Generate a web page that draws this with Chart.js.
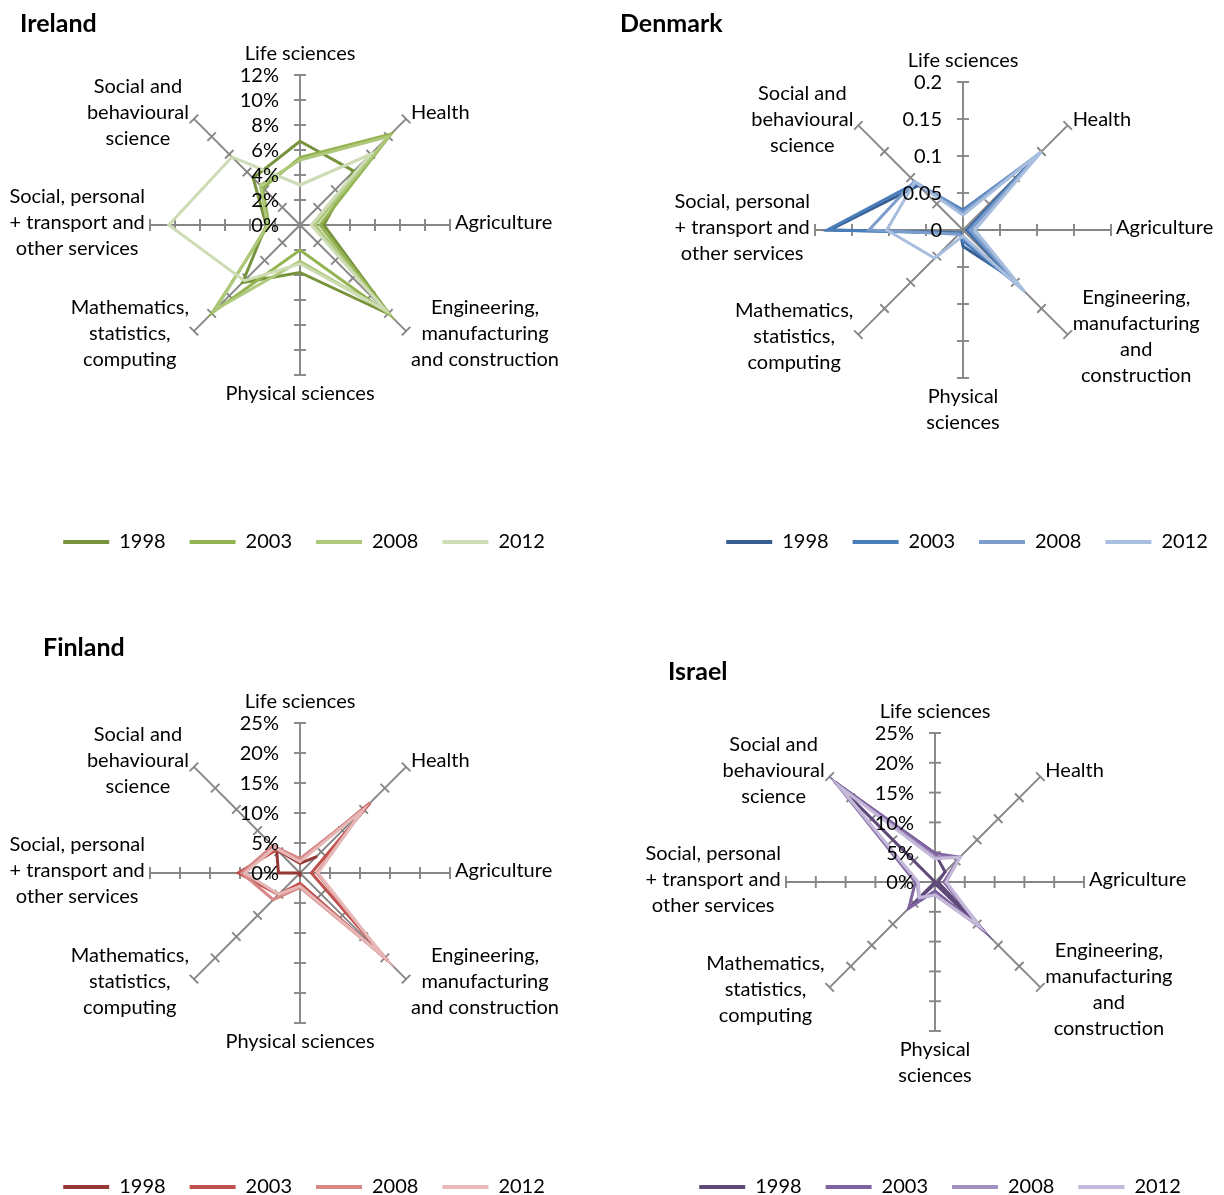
<!DOCTYPE html>
<html>
<head>
<meta charset="utf-8">
<script src="https://cdn.jsdelivr.net/npm/chart.js@4.4.1/dist/chart.umd.min.js"></script>
<style>
  html, body { margin: 0; padding: 0; background: #fff; overflow: hidden; }
  #page { position: relative; width: 1224px; height: 1195px; overflow: hidden; }
  canvas { position: absolute; }
  .country { position: absolute; font: bold 25px Lato, sans-serif; line-height: 30px; color: #000; }
</style>
</head>
<body>
<div id="page">
  <canvas id="irelandChart" width="608" height="562" style="left:0;top:0"></canvas>
  <canvas id="denmarkChart" width="710" height="562" style="left:612px;top:0"></canvas>
  <canvas id="finlandChart" width="608" height="607" style="left:0;top:600px"></canvas>
  <canvas id="israelChart" width="656" height="607" style="left:612px;top:600px"></canvas>
  <div class="country" style="left:20px;top:7px">Ireland</div>
  <div class="country" style="left:620px;top:7px">Denmark</div>
  <div class="country" style="left:43px;top:631px">Finland</div>
  <div class="country" style="left:668px;top:655px">Israel</div>
</div>
<script>
// field order, clockwise from the top
const fieldsWide = [
    'Life sciences', 'Health', 'Agriculture',
    ['Engineering,', 'manufacturing', 'and construction'],
    'Physical sciences',
    ['Mathematics,', 'statistics,', 'computing'],
    ['Social, personal', '+ transport and', 'other services'],
    ['Social and', 'behavioural', 'science']
];
const fieldsNarrow = [
    'Life sciences', 'Health', 'Agriculture',
    ['Engineering,', 'manufacturing', 'and', 'construction'],
    ['Physical', 'sciences'],
    ['Mathematics,', 'statistics,', 'computing'],
    ['Social, personal', '+ transport and', 'other services'],
    ['Social and', 'behavioural', 'science']
];
const years = ['1998', '2003', '2008', '2012'];

// share per field, one row per year
const irelandValues = [
    [0.067, 0.061, 0.019, 0.101, 0.038, 0.065, 0.027, 0.053],
    [0.054, 0.103, 0.016, 0.101, 0.020, 0.099, 0.025, 0.042],
    [0.052, 0.100, 0.012, 0.098, 0.029, 0.096, 0.026, 0.045],
    [0.032, 0.080, 0.009, 0.096, 0.031, 0.063, 0.105, 0.077]
];
const denmarkValues = [
    [0.025, 0.140, 0.005, 0.090, 0.022, 0.005, 0.180, 0.085],
    [0.027, 0.145, 0.007, 0.105, 0.015, 0.006, 0.183, 0.090],
    [0.024, 0.148, 0.010, 0.115, 0.010, 0.008, 0.127, 0.093],
    [0.020, 0.150, 0.016, 0.118, 0.008, 0.054, 0.103, 0.092]
];
const finlandValues = [
    [0.016, 0.038, null, null, 0.005, 0.000, 0.036, 0.055],
    [0.020, 0.165, 0.019, 0.208, 0.017, 0.051, 0.103, 0.055],
    [0.024, 0.150, 0.028, 0.200, 0.024, 0.063, 0.097, 0.064],
    [0.019, 0.148, 0.030, 0.198, 0.022, 0.050, 0.092, 0.060]
];
const israelValues = [
    [0.048, 0.024, 0.005, 0.115, 0.003, 0.064, 0.000, 0.237],
    [0.048, 0.059, 0.015, 0.115, 0.015, 0.062, 0.033, 0.235],
    [0.042, 0.059, 0.018, 0.107, 0.022, 0.038, 0.030, 0.230],
    [0.039, 0.059, 0.019, 0.105, 0.022, 0.037, 0.028, 0.225]
];

const percentTicks = [0, 0.05, 0.10, 0.15, 0.20, 0.25];
const irelandTicks = [0, 0.02, 0.04, 0.06, 0.08, 0.10, 0.12];
const denmarkTicks = [0, 0.05, 0.10, 0.15, 0.20];

const greens = ['#77933c', '#93b450', '#afc97c', '#cddcb4'];
const blues = ['#376092', '#4a7ebb', '#7b9dcb', '#a8bedf'];
const reds = ['#953735', '#c0504d', '#d78886', '#e6b9b8'];
const purples = ['#5f497a', '#7e63a0', '#a391c0', '#c4b9d8'];

const FONT = 'Lato, sans-serif';
const TEXT_SIZE = 20;
const LINE_GAP = 26;
const AXIS_GREY = '#868686';

const asPercent = v => Math.round(v * 100) + '%';
const asDecimal = v => String(+v.toFixed(2));

// Excel style axes: spokes with cross ticks, value labels left of the top spoke
const excelAxes = {
    id: 'excelAxes',
    beforeDatasetsDraw(chart) {
        const s = chart.scales.r;
        const ctx = chart.ctx;
        ctx.save();
        ctx.strokeStyle = AXIS_GREY;
        ctx.lineWidth = 1.9;
        chart.data.labels.forEach((_, i) => {
            const end = s.getPointPosition(i, s.drawingArea);
            ctx.beginPath();
            ctx.moveTo(s.xCenter, s.yCenter);
            ctx.lineTo(end.x, end.y);
            ctx.stroke();
            const nx = -Math.sin(end.angle), ny = Math.cos(end.angle);
            s.ticks.forEach(t => {
                if (t.value === 0) return;
                const p = s.getPointPosition(i, s.getDistanceFromCenterForValue(t.value));
                ctx.beginPath();
                ctx.moveTo(p.x - nx * 6, p.y - ny * 6);
                ctx.lineTo(p.x + nx * 6, p.y + ny * 6);
                ctx.stroke();
            });
        });
        ctx.restore();
    },
    afterDatasetsDraw(chart) {
        const s = chart.scales.r;
        const ctx = chart.ctx;
        ctx.save();
        ctx.font = TEXT_SIZE + 'px ' + FONT;
        ctx.fillStyle = '#000';
        ctx.textBaseline = 'middle';

        ctx.textAlign = 'right';
        s.ticks.forEach(t => {
            const y = s.yCenter - s.getDistanceFromCenterForValue(t.value);
            ctx.fillText(t.label, s.xCenter - 21, y + 1);
        });

        ctx.textAlign = 'center';
        chart.data.labels.forEach((label, i) => {
            const lines = [].concat(label);
            const end = s.getPointPosition(i, s.drawingArea);
            const dx = Math.cos(end.angle), dy = Math.sin(end.angle);
            const w = Math.max(...lines.map(l => ctx.measureText(l).width));
            const h = (lines.length - 1) * LINE_GAP;
            let x, y;
            if (Math.abs(dx) < 0.01) {
                x = end.x;
                y = dy < 0 ? end.y - 21 - h : end.y + 19;
            } else {
                x = end.x + Math.sign(dx) * (5 + w / 2);
                y = end.y + dy * 6 - 2 - h / 2;
            }
            lines.forEach((l, k) => ctx.fillText(l, x, y + k * LINE_GAP));
        });
        ctx.restore();
    }
};

// legend swatches a little heavier than the series lines
function legendItems(chart) {
    return Chart.defaults.plugins.legend.labels.generateLabels(chart)
        .map(item => Object.assign(item, { lineWidth: 4 }));
}

function radar(id, fields, values, colours, ticks, fmt, centre, radius) {
    return new Chart(document.getElementById(id), {
        type: 'radar',
        data: {
            labels: fields,
            datasets: years.map((year, k) => ({
                label: year,
                data: values[k],
                borderColor: colours[k],
                backgroundColor: colours[k],
                borderWidth: 3,
                borderCapStyle: 'round',
                pointRadius: 0,
                pointHoverRadius: 0,
                fill: false,
                spanGaps: false,
                order: years.length - k
            }))
        },
        options: {
            responsive: false,
            animation: false,
            layout: { padding: 0 },
            scales: {
                r: {
                    min: 0,
                    max: ticks[ticks.length - 1],
                    startAngle: 0,
                    grid: { display: false },
                    angleLines: { display: false },
                    pointLabels: { display: false },
                    ticks: { display: false, callback: fmt },
                    afterBuildTicks: s => { s.ticks = ticks.map(v => ({ value: v })); },
                    afterFit: s => {
                        s.xCenter = centre[0];
                        s.yCenter = centre[1];
                        s.drawingArea = radius;
                    }
                }
            },
            plugins: {
                tooltip: { enabled: false },
                legend: {
                    position: 'bottom',
                    labels: {
                        usePointStyle: true,
                        pointStyle: 'line',
                        pointStyleWidth: 46,
                        padding: 24,
                        color: '#000',
                        font: { family: FONT, size: TEXT_SIZE },
                        generateLabels: legendItems,
                        sort: (a, b) => a.datasetIndex - b.datasetIndex
                    }
                }
            }
        },
        plugins: [excelAxes]
    });
}

radar('irelandChart', fieldsWide, irelandValues, greens, irelandTicks, asPercent, [300, 225], 150);
radar('denmarkChart', fieldsNarrow, denmarkValues, blues, denmarkTicks, asDecimal, [351, 230], 148);
radar('finlandChart', fieldsWide, finlandValues, reds, percentTicks, asPercent, [300, 273], 150);
radar('israelChart', fieldsNarrow, israelValues, purples, percentTicks, asPercent, [323, 282], 149);
</script>
</body>
</html>
